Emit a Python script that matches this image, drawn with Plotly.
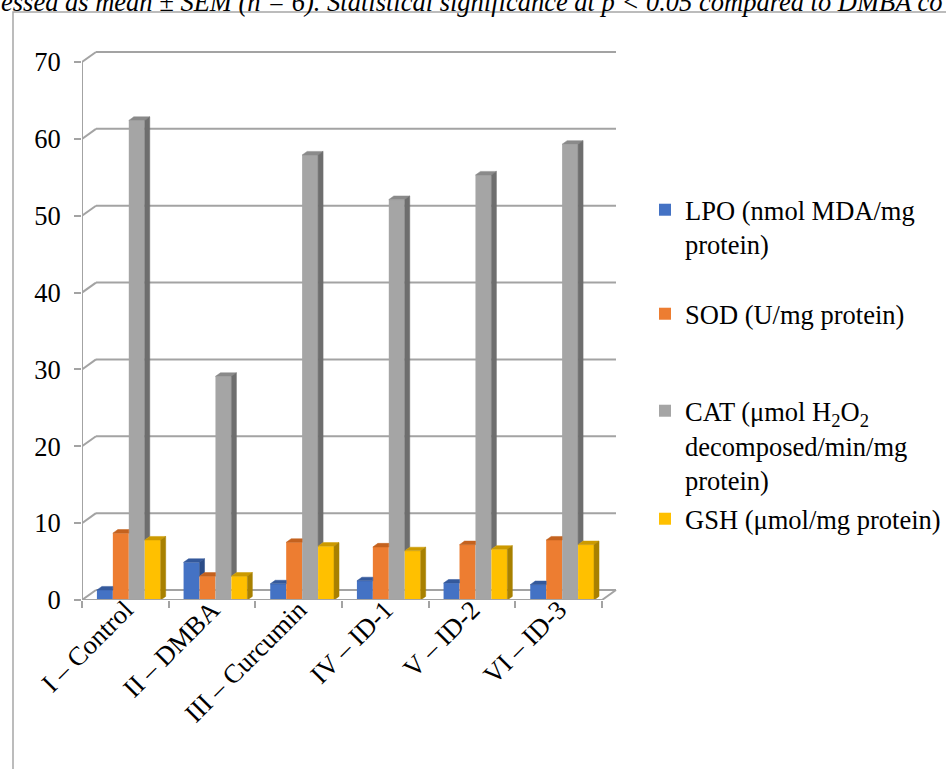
import plotly.graph_objects as go

# ---- data -------------------------------------------------------------
categories = ["I – Control", "II – DMBA", "III – Curcumin", "IV – ID-1", "V – ID-2", "VI – ID-3"]
series_names = [
    "LPO (nmol MDA/mg<br>protein)",
    "SOD (U/mg protein)",
    "CAT (μmol H<sub>2</sub>O<sub>2</sub><br>decomposed/min/mg<br>protein)",
    "GSH (μmol/mg protein)",
]
lpo = [1.3, 4.9, 2.1, 2.5, 2.2, 2.0]
sod = [8.7, 3.1, 7.5, 6.9, 7.2, 7.8]
cat = [62.4, 29.1, 57.9, 52.1, 55.3, 59.3]
gsh = [7.8, 3.1, 7.0, 6.4, 6.6, 7.2]
y_ticks = [0, 10, 20, 30, 40, 50, 60, 70]
note_text = "essed as mean ± SEM (n = 6). Statistical significance at p < 0.05 compared to DMBA co"

series_values = [lpo, sod, cat, gsh]

# ---- styling ----------------------------------------------------------
front_colors = ["#4472C4", "#ED7D31", "#A5A5A5", "#FFC000"]
top_colors = ["#34599C", "#C4621F", "#8A8A8A", "#CC9A00"]
side_colors = ["#2B4C88", "#AE561A", "#6E6E6E", "#A88000"]
GRID = "#A3A3A3"
FONT = "Liberation Serif"
FS = 26.5

FIG_W, FIG_H = 946, 769
M_L, M_B, M_T = 82, 169, 44
CAT_PX = 86.67                 # pixels per category on the front edge
UNIT_PX = 538 / 70             # pixels per value unit
X_HI = 5.8
plot_w = CAT_PX * (X_HI + 0.5)
M_R = FIG_W - M_L - plot_w
plot_h = FIG_H - M_B - M_T
Y_HI = plot_h / UNIT_PX

# depth offsets (3-D look) in data units
BACK_DX, BACK_DY = 14 / CAT_PX, 10 / UNIT_PX
BAR_DX, BAR_DY = 5 / CAT_PX, 3.6 / UNIT_PX
BAR_W = 0.184
GROUP_SHIFT = 0.04

n_cat = len(categories)
xs = list(range(n_cat))


def px_to_paper(px, py):
    return (px - M_L) / plot_w, (FIG_H - M_B - py) / plot_h


fig = go.Figure()

legend_ids = ["legend", "legend2", "legend3", "legend4"]

# front faces
for k, (name, vals) in enumerate(zip(series_names, series_values)):
    fig.add_trace(go.Bar(
        x=xs, y=vals, name=name,
        width=BAR_W, offset=GROUP_SHIFT - 2 * BAR_W + k * BAR_W,
        marker=dict(color=front_colors[k], line=dict(width=0)),
        legend=legend_ids[k],
        hoverinfo="skip",
    ))

# top and side faces
for k, vals in enumerate(series_values):
    top_x, top_y, side_x, side_y = [], [], [], []
    for i in range(n_cat):
        v = vals[i]
        v_next = series_values[k + 1][i] if k < 3 else 0.0
        xl = i + GROUP_SHIFT - 2 * BAR_W + k * BAR_W
        xr = xl + BAR_W
        if v_next > v:
            top_x += [xl, xr, xr, xl + BAR_DX, xl, None]
            top_y += [v, v, v + BAR_DY, v + BAR_DY, v, None]
        else:
            top_x += [xl, xr, xr + BAR_DX, xl + BAR_DX, xl, None]
            top_y += [v, v, v + BAR_DY, v + BAR_DY, v, None]
            lo = max(v_next, 0.0)
            side_x += [xr, xr + BAR_DX, xr + BAR_DX, xr, xr, None]
            side_y += [lo, lo + BAR_DY, v + BAR_DY, v, lo, None]
    fig.add_trace(go.Scatter(
        x=top_x, y=top_y, mode="lines", fill="toself",
        fillcolor=top_colors[k], line=dict(color=top_colors[k], width=0.5),
        showlegend=False, hoverinfo="skip",
    ))
    fig.add_trace(go.Scatter(
        x=side_x, y=side_y, mode="lines", fill="toself",
        fillcolor=side_colors[k], line=dict(color=side_colors[k], width=0.5),
        showlegend=False, hoverinfo="skip",
    ))

# back wall gridlines, wall/floor diagonals and the front edges
shapes = []
x_lo, x_end = -0.5, n_cat - 0.5
for v in y_ticks:
    shapes.append(dict(type="line", xref="x", yref="y", layer="below",
                       x0=x_lo + BACK_DX, x1=x_end + BACK_DX, y0=v + BACK_DY, y1=v + BACK_DY,
                       line=dict(color=GRID, width=2)))
    shapes.append(dict(type="line", xref="x", yref="y", layer="below",
                       x0=x_lo, x1=x_lo + BACK_DX, y0=v, y1=v + BACK_DY,
                       line=dict(color=GRID, width=2)))
shapes.append(dict(type="line", xref="x", yref="y", layer="below",
                   x0=x_end, x1=x_end + BACK_DX, y0=0, y1=BACK_DY,
                   line=dict(color=GRID, width=2)))
shapes.append(dict(type="line", xref="x", yref="y", layer="above",
                   x0=x_lo, x1=x_end, y0=0, y1=0, line=dict(color=GRID, width=2)))
shapes.append(dict(type="line", xref="x", yref="y", layer="below",
                   x0=x_lo, x1=x_lo, y0=0, y1=y_ticks[-1], line=dict(color=GRID, width=2)))

# outer frame
fx0, fy0 = px_to_paper(13, 12)
fx1, fy1 = px_to_paper(980, 800)
shapes.append(dict(type="rect", xref="paper", yref="paper", layer="below",
                   x0=fx0, y0=fy1, x1=fx1, y1=fy0,
                   line=dict(color="#A6A6A6", width=1.5), fillcolor="rgba(0,0,0,0)"))

ax, ay = px_to_paper(-1, 19)
annotations = [dict(
    text=note_text, xref="paper", yref="paper", x=ax, y=ay,
    xanchor="left", yanchor="bottom", showarrow=False,
    font=dict(family=FONT, size=FS, color="black", style="italic"),
)]

legend_tops = [186, 290, 387, 495]
legend_common = dict(
    xref="container", yref="container", xanchor="left", yanchor="top",
    font=dict(family=FONT, size=FS, color="black"),
    bgcolor="rgba(0,0,0,0)", borderwidth=0, valign="top", itemwidth=30,
)
legend_layouts = {}
for lid, top in zip(legend_ids, legend_tops):
    legend_layouts[lid] = dict(legend_common, x=645 / FIG_W, y=1 - top / FIG_H)

fig.update_layout(
    width=FIG_W, height=FIG_H,
    margin=dict(l=M_L, r=round(M_R), t=M_T, b=M_B, autoexpand=False),
    paper_bgcolor="white", plot_bgcolor="white",
    barmode="overlay",
    showlegend=True,
    shapes=shapes,
    annotations=annotations,
    xaxis=dict(
        type="linear", range=[x_lo, X_HI], tickmode="array", tickvals=xs, ticktext=categories,
        ticks="", ticklen=0, tickangle=-45, ticklabelstandoff=-12,
        showgrid=False, zeroline=False, showline=False,
        tickfont=dict(family=FONT, size=FS, color="black"),
        minor=dict(tickmode="array", tickvals=[i - 0.5 for i in range(n_cat + 1)],
                   ticks="outside", ticklen=7, tickcolor=GRID, tickwidth=1.5, showgrid=False),
        automargin=False, fixedrange=True,
    ),
    yaxis=dict(
        range=[0, Y_HI], tickmode="array", tickvals=y_ticks,
        ticks="outside", ticklen=7, tickcolor=GRID, tickwidth=1.5, ticklabelstandoff=8,
        showgrid=False, zeroline=False, showline=False,
        tickfont=dict(family=FONT, size=FS, color="black"),
        automargin=False, fixedrange=True,
    ),
    **legend_layouts,
)

fig.write_html("out.html")
